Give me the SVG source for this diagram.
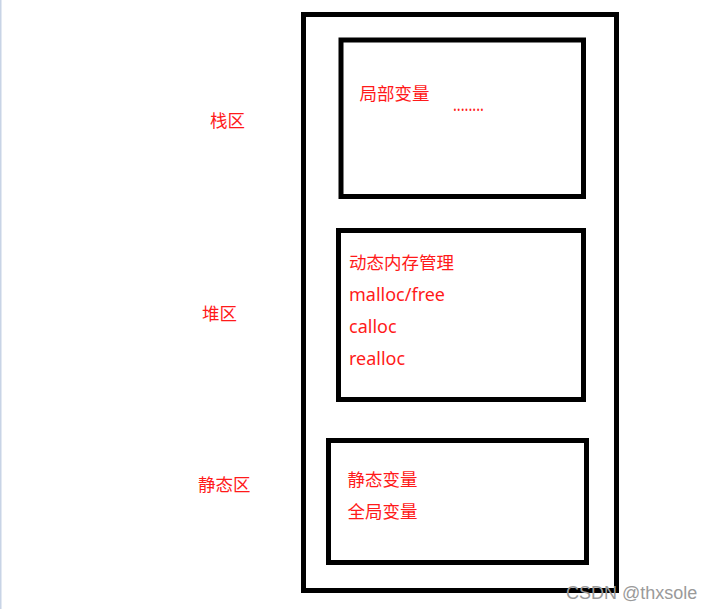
<svg xmlns="http://www.w3.org/2000/svg" width="715" height="609" viewBox="0 0 715 609">
<style>
.box{fill:none;stroke:#000;stroke-width:5}
.t{font-family:"Noto Sans","Noto Sans CJK SC",sans-serif;font-size:18px;fill:#ff1a1a}
.lbl{font-family:"Noto Sans CJK SC","Noto Sans",sans-serif;font-size:17.5px;fill:#ff1a1a}
.wm{font-family:"Liberation Sans",Arial,sans-serif;font-size:18px;fill:#9a9a9a}
</style>
<rect x="0" y="0" width="715" height="609" fill="#fff"/>
<rect x="0" y="0" width="1.5" height="609" fill="#c8d4e6"/>
<g id="memory">
<rect class="box" x="303.5" y="14.5" width="313" height="576"/>
</g>
<g id="stack-label"><text class="lbl" x="210" y="127">栈区</text></g>
<g id="heap-label"><text class="lbl" x="202" y="320">堆区</text></g>
<g id="static-label"><text class="lbl" x="198" y="491">静态区</text></g>
<g id="stack">
<rect class="box" x="341" y="40" width="242.5" height="156.5"/>
<text class="lbl" x="359.5" y="100" font-size="18">局部变量</text>
<text class="t" x="453" y="111" textLength="31" lengthAdjust="spacingAndGlyphs">........</text>
</g>
<g id="heap">
<rect class="box" x="338.5" y="230.5" width="245" height="169"/>
<text class="lbl" x="349" y="269" font-size="18">动态内存管理</text>
<text class="t" x="349" y="301">malloc/free</text>
<text class="t" x="349" y="333">calloc</text>
<text class="t" x="349" y="365">realloc</text>
</g>
<g id="static">
<rect class="box" x="328.5" y="440.5" width="258" height="122"/>
<text class="lbl" x="347.5" y="486" font-size="18">静态变量</text>
<text class="lbl" x="347.5" y="518" font-size="18">全局变量</text>
</g>
<g id="connectors"></g>
<text class="wm" x="566" y="599">CSDN @thxsole</text>
</svg>
